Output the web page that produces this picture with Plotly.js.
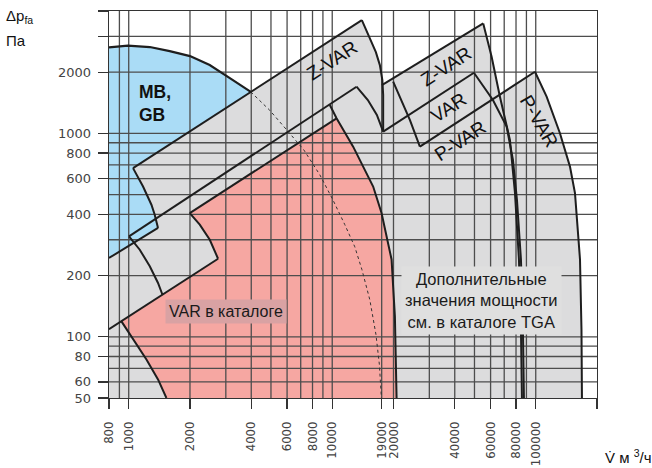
<!DOCTYPE html>
<html><head><meta charset="utf-8">
<script src="https://cdn.plot.ly/plotly-3.0.1.min.js"></script>
<style>body{margin:0;background:#fff}#chart{width:652px;height:468px}</style>
</head><body><div id="chart"></div>
<script>
// ---- axis ticks / grid ----
const xTickVals = [800,1000,2000,4000,6000,8000,10000,17500,20000,40000,60000,80000,100000];
const xTickText = ['800','1000','2000','4000','6000','8000','10000','19000','20000','40000','60000','80000','100000'];
const xMinorTicks = [200000];
const yTickVals = [50,60,80,100,200,400,600,800,1000,2000];
const yTickText = ['50','60','80','100','200','400','600','800','1000','2000'];
const yMinorTicks = [3000,4000];
const xGrid = [900,1000,2000,3000,4000,5000,6000,7000,8000,9000,10000,17500,20000,30000,40000,50000,60000,70000,80000,90000,100000];
const yGrid = [60,70,80,90,100,200,300,400,500,600,700,800,900,1000,2000,3000];

// ---- regions (V m3/h, dp Pa) ----
const blueArcV = [800,990,1270,1590,2000,2500,3140,3980];
const blueArcP = [2650,2700,2660,2540,2400,2170,1870,1600];
const blueDashV = [3980,4930,5980,7250,8690,10070,11530,12910,13990,15300,16390,17050,17440];
const blueDashP = [1600,1300,1040,830,626,472,356,277,214,152,103,73,50];

const grayV = [1050,13980,15300,16385,17142,17634,17533,55200,60700,66310,99100,113100,131500,147300,155900,165000,167800,168700,800,800,1393,1342,1293,1176,1050];
const grayP = [675,3605,2942,2512,2168,1830,1729,3474,2381,1554,2010,1516,1002,687,509,240,109,50,50,244,343,398,446,548,675];

const pinkV = [1995,10500,12670,14470,15890,17470,18350,19570,20320,20710,1532,1393,1222,1050,921,2748,2502,2234,1995];
const pinkP = [406,1187,861,662,548,406,318,240,126,50,50,61.7,77.4,97,119,242,300,356,406];

// ---- outline lines ----
const z1TopV = [1050,13980], z1TopP = [675,3605];
const z1RightV = [13980,15300,16385,17142,17634,17795,17795,17795], z1RightP = [3605,2942,2512,2168,1830,1545,1304,1020];
const z1LeftV = [1050,1176,1293,1342,1393], z1LeftP = [675,548,446,398,343];
const lineBV = [800,1393], lineBP = [244,343];
const alphaV = [1003,13163], alphaP = [312,1697];
const alphaRightV = [13163,14963,16572,17795], alphaRightP = [1697,1460,1233,1020];
const alphaLeftV = [1003,1133,1269,1393,1465], alphaLeftP = [312,268,222,184,161];
const rzTopV = [17533,55200], rzTopP = [1729,3474];
const rzLeftV = [19925,21495,24070,26960], rzLeftP = [1796,1516,1165,861];
const rvTopV = [17795,49690], rvTopP = [1020,1988];
const rpTopV = [26960,99100], rpTopP = [861,2010];
const rzRightV = [55200,60700,66690,74680,79040,82700,84590,85550], rzRightP = [3474,2381,1516,929,511,240,109,50];
const rvRightV = [49690,61600,71940,77270,80850,84590,86500,87480], rvRightP = [1988,1460,1080,741,472,240,109,50];
const rpRightV = [99100,113100,131500,147300,155900,165000,167800,168700], rpRightP = [2010,1516,1002,687,509,240,109,50];
const pinkTopV = [1995,10500], pinkTopP = [406,1187];
const pinkRightV = [9732,10500,12670,14470,15890,17470,18350,19570,20320,20710], pinkRightP = [1380,1187,861,662,548,406,318,240,126,50];
const pinkLeftUpV = [1995,2234,2502,2748], pinkLeftUpP = [406,356,300,242];
const linePV = [800,2748], linePP = [109,242];
const pinkLeftLowV = [921,1050,1222,1393,1532], pinkLeftLowP = [119,97,77.4,61.7,50];

// ---- labels ----
const labels = [
  {text:'<b>MB,<br>GB</b>', v:1095, p:1411, size:17.5, angle:0, anchor:'left'},
  {text:'Z-VAR', v:9955, p:2295, size:19, angle:-33, anchor:'center'},
  {text:'Z-VAR', v:36190, p:2144, size:19, angle:-33, anchor:'center'},
  {text:'VAR', v:37440, p:1334, size:19, angle:-33, anchor:'center'},
  {text:'P-VAR', v:42880, p:919, size:19, angle:-33, anchor:'center'},
  {text:'P-VAR', v:103700, p:1139, size:19, angle:60, anchor:'center'}
];
const boxLabels = [
  {text:'VAR в каталоге', v:2999, p:133.1, bg:'#d9a2a3', pad:3, size:16},
  {text:'Дополнительные<br>значения мощности<br>см. в каталоге TGA', v:54390, p:150.7, bg:'#dfdfdf', pad:3, size:16.5}
];

const BLACK = '#1e1e1e';
const traces = [];
function poly(x, y, color){ traces.push({x:x, y:y, mode:'lines', fill:'toself', fillcolor:color, line:{width:0}, hoverinfo:'skip', showlegend:false}); }
function line(x, y, w, dash, color){ traces.push({x:x, y:y, mode:'lines', line:{color:color||BLACK, width:w||2, dash:dash||'solid'}, hoverinfo:'skip', showlegend:false}); }

poly(blueArcV.concat(blueDashV, [800]), blueArcP.concat(blueDashP, [50]), '#aadcf6');
poly(grayV, grayP, '#dcdcdd');
poly(pinkV, pinkP, '#f6a7a2');

// grid on top of fills
const gx = [], gy = [];
xGrid.forEach(v => { gx.push(v, v, null); gy.push(50, 4000, null); });
yGrid.forEach(p => { gx.push(800, 200000, null); gy.push(p, p, null); });
line(gx, gy, 1.3, 'solid', '#4d4d4d');

line(blueArcV, blueArcP, 2.2);
line(blueDashV, blueDashP, 1, '3px,3px', '#333');
[[z1TopV,z1TopP],[z1RightV,z1RightP],[z1LeftV,z1LeftP],[lineBV,lineBP],[alphaV,alphaP],[alphaRightV,alphaRightP],
 [alphaLeftV,alphaLeftP],[rzTopV,rzTopP],[rzLeftV,rzLeftP],[rvTopV,rvTopP],[rpTopV,rpTopP],[rzRightV,rzRightP],
 [rvRightV,rvRightP],[rpRightV,rpRightP],[pinkTopV,pinkTopP],[pinkRightV,pinkRightP],[pinkLeftUpV,pinkLeftUpP],
 [linePV,linePP],[pinkLeftLowV,pinkLeftLowP]].forEach(s => line(s[0], s[1], 2));

const FONT = 'Liberation Sans, Arial, sans-serif';
const annotations = [];
labels.forEach(l => annotations.push({x:Math.log10(l.v), y:Math.log10(l.p), xref:'x', yref:'y', text:l.text, showarrow:false,
  textangle:l.angle, xanchor:l.anchor, yanchor:'middle', align:'left', font:{family:FONT, size:l.size, color:'#111'}}));
boxLabels.forEach(l => annotations.push({x:Math.log10(l.v), y:Math.log10(l.p), xref:'x', yref:'y', text:l.text, showarrow:false,
  bgcolor:l.bg, borderpad:l.pad, align:'center', font:{family:FONT, size:l.size, color:'#1a1a1a'}}));
annotations.push({xref:'paper', yref:'paper', x:-0.215, y:0.985, xanchor:'left', yanchor:'middle', showarrow:false,
  text:'Δp<sub>fa</sub>', font:{family:FONT, size:15, color:'#111'}});
annotations.push({xref:'paper', yref:'paper', x:-0.215, y:0.925, xanchor:'left', yanchor:'middle', showarrow:false,
  text:'Па', font:{family:FONT, size:15, color:'#111'}});
annotations.push({xref:'paper', yref:'paper', x:1.012, y:-0.152, xanchor:'left', yanchor:'middle', showarrow:false,
  text:'V̇ м <sup>3</sup>/ч', font:{family:FONT, size:15, color:'#111'}});

const axisCommon = {type:'log', showgrid:false, zeroline:false, showline:true, mirror:true, linecolor:'#333', linewidth:1.3,
  ticks:'outside', ticklen:10, tickwidth:1.3, tickcolor:'#333', tickmode:'array', layer:'above traces'};

const layout = {
  width:652, height:468, margin:{l:109, r:55, t:11, b:70}, paper_bgcolor:'#fff', plot_bgcolor:'#fff',
  showlegend:false,
  xaxis:Object.assign({}, axisCommon, {range:[Math.log10(800), Math.log10(200000)], tickvals:xTickVals, ticktext:xTickText,
    tickangle:-90, ticklabelstandoff:7,
    tickfont:{family:'DejaVu Sans Condensed, Liberation Sans Narrow, Liberation Sans, sans-serif', size:13, color:'#444'},
    minor:{tickmode:'array', tickvals:xMinorTicks, ticks:'outside', ticklen:10, tickwidth:1.3, tickcolor:'#333', showgrid:false}}),
  yaxis:Object.assign({}, axisCommon, {range:[Math.log10(50), Math.log10(4000)], tickvals:yTickVals, ticktext:yTickText,
    ticklabelstandoff:4, tickfont:{family:'DejaVu Sans, sans-serif', size:13, color:'#444'},
    minor:{tickmode:'array', tickvals:yMinorTicks, ticks:'outside', ticklen:10, tickwidth:1.3, tickcolor:'#333', showgrid:false}}),
  annotations:annotations
};
Plotly.newPlot('chart', traces, layout, {displayModeBar:false, staticPlot:true});
</script></body></html>
